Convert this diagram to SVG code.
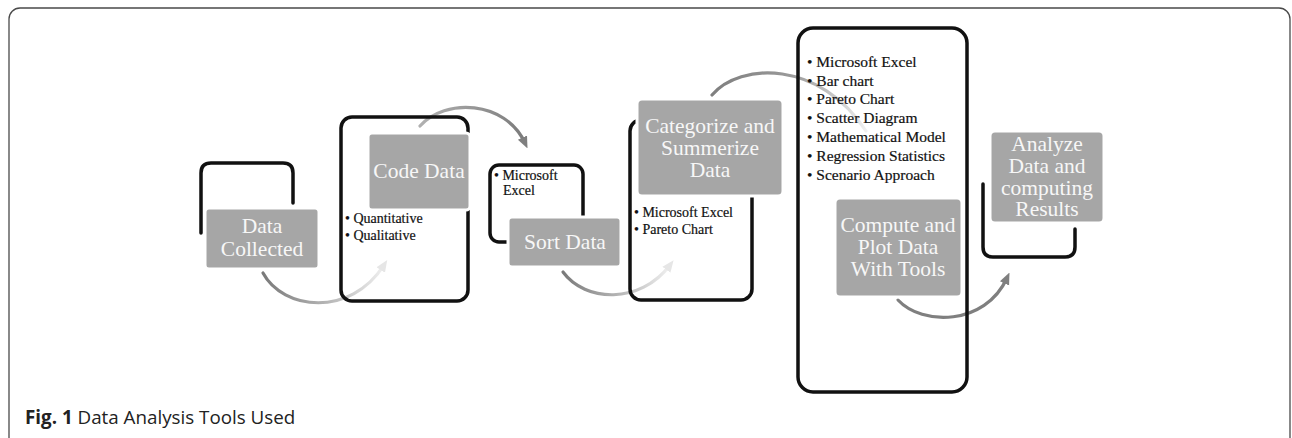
<svg xmlns="http://www.w3.org/2000/svg" width="1292" height="438" viewBox="0 0 1292 438">
<style>
.frame{fill:none;stroke:#4a4a4a;stroke-width:1.3}
.box{fill:none;stroke:#111;stroke-width:3.5;stroke-linecap:round}
.card{fill:#a6a6a6;stroke:#fff;stroke-width:3}
.lbl{font-family:"Liberation Serif","Times New Roman",serif;font-size:21.5px;fill:#f7f7f7;text-anchor:middle}
.bul{font-family:"Liberation Serif","Times New Roman",serif;font-size:14px;fill:#111;stroke:#111;stroke-width:0.2}
.bul2{font-family:"Liberation Serif","Times New Roman",serif;font-size:15.5px;fill:#111;stroke:#111;stroke-width:0.2}
.arc{fill:none;stroke-width:3.2;stroke-linecap:round}
.cap{font-family:"Open Sans","Liberation Sans",sans-serif;font-size:18.8px;fill:#222}
</style>
<defs>
<marker id="ah" markerUnits="userSpaceOnUse" markerWidth="12" markerHeight="12" viewBox="0 0 12 12" refX="6" refY="6" orient="auto">
<path d="M0,1 L12,6 L0,11 Z" fill="#7f7f7f"/>
</marker>
<marker id="ahl" markerUnits="userSpaceOnUse" markerWidth="12" markerHeight="12" viewBox="0 0 12 12" refX="6" refY="6" orient="auto">
<path d="M0,1 L12,6 L0,11 Z" fill="#e6e6e6"/>
</marker>
<linearGradient id="g1" gradientUnits="userSpaceOnUse" x1="263" y1="273" x2="385" y2="264"><stop offset="0" stop-color="#7a7a7a"/><stop offset="1" stop-color="#f0f0f0"/></linearGradient>
<linearGradient id="g2" gradientUnits="userSpaceOnUse" x1="420" y1="126" x2="525" y2="143"><stop offset="0" stop-color="#b0b0b0"/><stop offset="1" stop-color="#7a7a7a"/></linearGradient>
<linearGradient id="g3" gradientUnits="userSpaceOnUse" x1="563" y1="272" x2="670" y2="265"><stop offset="0" stop-color="#7a7a7a"/><stop offset="1" stop-color="#f0f0f0"/></linearGradient>
<linearGradient id="g4" gradientUnits="userSpaceOnUse" x1="712" y1="95" x2="868" y2="133"><stop offset="0" stop-color="#7f7f7f"/><stop offset="0.45" stop-color="#9a9a9a"/><stop offset="1" stop-color="#f2f2f2"/></linearGradient>
</defs>
<rect class="frame" x="9" y="8" width="1281" height="460" rx="11"/>

<g id="connectors">
<path class="arc" stroke="url(#g1)" d="M263,273 C283,310 350,318 384,265" marker-end="url(#ahl)"/>
<path class="arc" stroke="url(#g2)" d="M420,126 C445,98 505,100 525,143" marker-end="url(#ah)"/>
<path class="arc" stroke="url(#g3)" d="M563,272 C585,302 640,305 670,265" marker-end="url(#ahl)"/>
<path class="arc" stroke="url(#g4)" d="M712,95 C740,62 820,60 866,131"/>
<path class="arc" stroke="#7f7f7f" d="M898,300 C922,326 985,326 1007,278" marker-end="url(#ah)"/>
</g>

<g id="node-data-collected">
<path class="box" d="M201,233 L201,173 Q201,163 211,163 L283,163 Q293,163 293,173 L293,203"/>
<rect class="card" x="205" y="208" width="114" height="61" rx="4"/>
<text class="lbl" x="262" y="233">Data</text>
<text class="lbl" x="262" y="256">Collected</text>
</g>

<g id="node-code-data">
<rect class="box" x="341" y="117" width="127" height="184" rx="11"/>
<rect class="card" x="368" y="133" width="102" height="77" rx="4"/>
<text class="lbl" x="419" y="178">Code Data</text>
<text class="bul" x="345" y="223">• Quantitative</text>
<text class="bul" x="345" y="240">• Qualitative</text>
</g>

<g id="node-sort-data">
<rect class="box" x="490" y="165" width="93" height="77" rx="9"/>
<rect class="card" x="508" y="217" width="113" height="50" rx="4"/>
<text class="lbl" x="565" y="249">Sort Data</text>
<text class="bul" x="494" y="180">•  Microsoft</text>
<text class="bul" x="503" y="195">Excel</text>
</g>

<g id="node-categorize">
<rect class="box" x="630" y="120" width="122" height="180" rx="11"/>
<rect class="card" x="637" y="99" width="146" height="97" rx="5"/>
<text class="lbl" x="710" y="133">Categorize and</text>
<text class="lbl" x="710" y="155">Summerize</text>
<text class="lbl" x="710" y="177">Data</text>
<text class="bul" x="634" y="217">• Microsoft Excel</text>
<text class="bul" x="634" y="234">• Pareto Chart</text>
</g>

<g id="node-compute">
<rect class="box" x="798" y="28" width="169" height="364" rx="15"/>
<text class="bul2" x="807" y="67">• Microsoft Excel</text>
<text class="bul2" x="807" y="86">• Bar chart</text>
<text class="bul2" x="807" y="104">• Pareto Chart</text>
<text class="bul2" x="807" y="123">• Scatter Diagram</text>
<text class="bul2" x="807" y="142">• Mathematical Model</text>
<text class="bul2" x="807" y="161">• Regression Statistics</text>
<text class="bul2" x="807" y="180">• Scenario Approach</text>
<rect class="card" x="835" y="198" width="127" height="99" rx="5"/>
<text class="lbl" x="898" y="232">Compute and</text>
<text class="lbl" x="898" y="254">Plot Data</text>
<text class="lbl" x="898" y="276">With Tools</text>
</g>

<g id="node-analyze">
<path class="box" d="M983,184 L983,247 Q983,257 993,257 L1065,257 Q1075,257 1075,247 L1075,229"/>
<rect class="card" x="990" y="131" width="114" height="92" rx="5"/>
<text class="lbl" x="1047" y="151" font-size="20.5px">Analyze</text>
<text class="lbl" x="1047" y="173" font-size="20.5px">Data and</text>
<text class="lbl" x="1047" y="195" font-size="20.5px">computing</text>
<text class="lbl" x="1047" y="216" font-size="20.5px">Results</text>
</g>

<text class="cap" x="25" y="424"><tspan font-weight="bold">Fig. 1</tspan> Data Analysis Tools Used</text>
</svg>
